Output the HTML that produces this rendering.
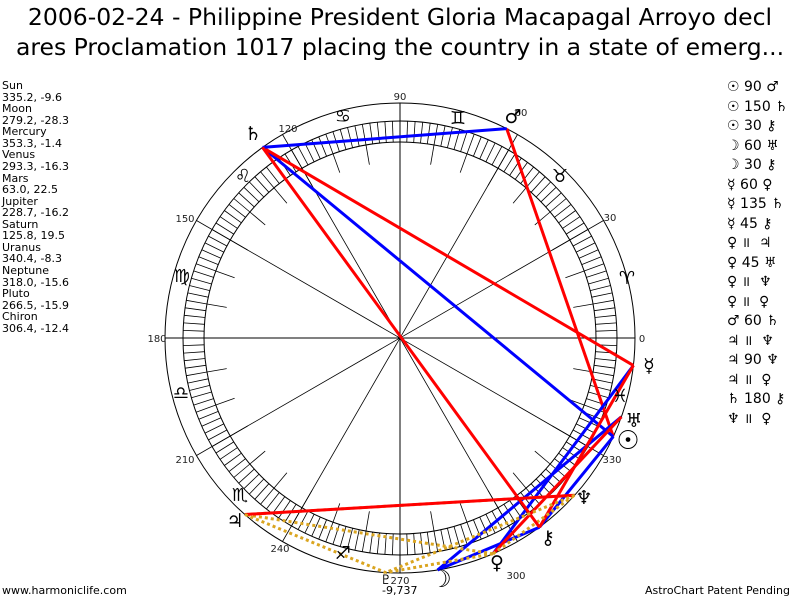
<!DOCTYPE html>
<html><head><meta charset="utf-8"><style>
body{margin:0;width:800px;height:600px;background:#fff;overflow:hidden;font-family:"Liberation Sans","DejaVu Sans",sans-serif}
.t{position:absolute;left:-20px;width:840px;text-align:center;font-size:23.5px;color:#000;font-family:"DejaVu Sans",sans-serif;white-space:nowrap}
.l{position:absolute;left:2px;top:80px;font-size:11px;line-height:11.57px;color:#000;font-family:"DejaVu Sans",sans-serif}
.r{position:absolute;left:727px;top:78px;font-size:14px;line-height:19.5px;font-family:"DejaVu Sans",sans-serif;white-space:pre}
</style></head><body>
<div class="t" style="top:3px">2006-02-24 - Philippine President Gloria Macapagal Arroyo decl</div>
<div class="t" style="top:33px">ares Proclamation 1017 placing the country in a state of emerg...</div>
<div class="l">Sun<br>335.2, -9.6<br>Moon<br>279.2, -28.3<br>Mercury<br>353.3, -1.4<br>Venus<br>293.3, -16.3<br>Mars<br>63.0, 22.5<br>Jupiter<br>228.7, -16.2<br>Saturn<br>125.8, 19.5<br>Uranus<br>340.4, -8.3<br>Neptune<br>318.0, -15.6<br>Pluto<br>266.5, -15.9<br>Chiron<br>306.4, -12.4</div>
<div class="r">☉ 90 ♂
☉ 150 ♄
☉ 30 ⚷
☽ 60 ♅
☽ 30 ⚷
☿ 60 ♀
☿ 135 ♄
☿ 45 ⚷
♀ ॥  ♃
♀ 45 ♅
♀ ॥  ♆
♀ ॥  ♀
♂ 60 ♄
♃ ॥  ♆
♃ 90 ♆
♃ ॥  ♀
♄ 180 ⚷
♆ ॥  ♀</div>
<svg id="s" width="800" height="600" style="position:absolute;left:0;top:0" font-family="DejaVu Sans, sans-serif">
<g id="g"></g>
<g font-size="10" fill="#222" text-anchor="middle">
<text x="642" y="342">0</text><text x="610" y="221">30</text><text x="521" y="116">60</text><text x="400" y="100">90</text>
<text x="288" y="132">120</text><text x="185" y="222">150</text><text x="157" y="342">180</text><text x="185" y="463">210</text>
<text x="280" y="552">240</text><text x="400" y="584">270</text><text x="516" y="579">300</text><text x="612" y="463">330</text>
</g>
<g font-size="18" fill="#000" text-anchor="middle">
<text x="627" y="284">♈</text><text x="560" y="182">♉</text><text x="458" y="124">♊</text><text x="343" y="122">♋</text>
<text x="243" y="182">♌</text><text x="182" y="282">♍</text><text x="181" y="399">♎</text><text x="240" y="501">♏</text>
<text x="343" y="559">♐</text><text x="620" y="402">♓</text>
</g>
<g font-size="19" fill="#000" text-anchor="middle">
<text x="628" y="449" font-size="26" font-weight="bold">☉</text><text x="634" y="427">♅</text><text x="649" y="372">☿</text>
<text x="584" y="504">♆</text><text x="548" y="544">⚷</text><text x="497" y="569">♀</text><text x="441" y="587" font-size="24" font-weight="bold">☽</text>
<text x="235" y="527">♃</text><text x="253" y="140">♄</text><text x="513" y="123">♂</text><text x="386" y="584" font-size="13">♇</text>
</g>
<text x="382" y="594" font-size="11" fill="#000">-9,737</text>
<text x="2" y="594" font-size="11" fill="#000">www.harmoniclife.com</text>
<text x="790" y="594" font-size="11" fill="#000" text-anchor="end">AstroChart Patent Pending</text>
</svg>
<script>
var cx=400,cy=338,R=235,g=document.getElementById('g'),h='';
function P(L,r){var a=L*Math.PI/180;return [cx+r*Math.cos(a),cy-r*Math.sin(a)];}
function ln(a,b,st){h+='<line x1="'+a[0].toFixed(1)+'" y1="'+a[1].toFixed(1)+'" x2="'+b[0].toFixed(1)+'" y2="'+b[1].toFixed(1)+'" '+st+'/>';}
h+='<circle cx="400" cy="338" r="235" fill="none" stroke="#000" stroke-width="1"/>';
h+='<circle cx="400" cy="338" r="217" fill="none" stroke="#000" stroke-width="1"/>';
h+='<circle cx="400" cy="338" r="196" fill="none" stroke="#000" stroke-width="1"/>';
for(var d=0;d<360;d+=2){ln(P(d,196),P(d,217),'stroke="#000" stroke-width="0.8"');}
for(var d=0;d<360;d+=10){ln(P(d,176),P(d,196),'stroke="#000" stroke-width="0.8"');}
for(var d=0;d<180;d+=30){ln(P(d,235),P(d+180,235),'stroke="#000" stroke-width="'+(d%90?0.8:1)+'"');}
var p={su:335.2,mo:279.2,me:353.3,ve:293.3,ma:63.0,ju:228.7,sa:125.8,ur:340.4,ne:318.0,pl:266.5,ch:306.4};
var A=[['su','ma',0],['su','sa',1],['su','ch',1],['mo','ur',1],['mo','ch',1],['me','ve',1],['me','sa',0],['me','ch',0],
['ve','ju',2],['ve','ur',0],['ve','ne',2],['ve','pl',2],['ma','sa',1],['ju','ne',2],['ju','ne',0],['ju','pl',2],['sa','ch',0],['ne','pl',2]];
A.forEach(function(x){var st=x[2]==0?'stroke="#f00" stroke-width="3"':x[2]==1?'stroke="#00f" stroke-width="3"':'stroke="#daa520" stroke-width="3" stroke-dasharray="3,3"';
ln(P(p[x[0]],R),P(p[x[1]],R),st);});
g.innerHTML=h;
</script>
</body></html>
